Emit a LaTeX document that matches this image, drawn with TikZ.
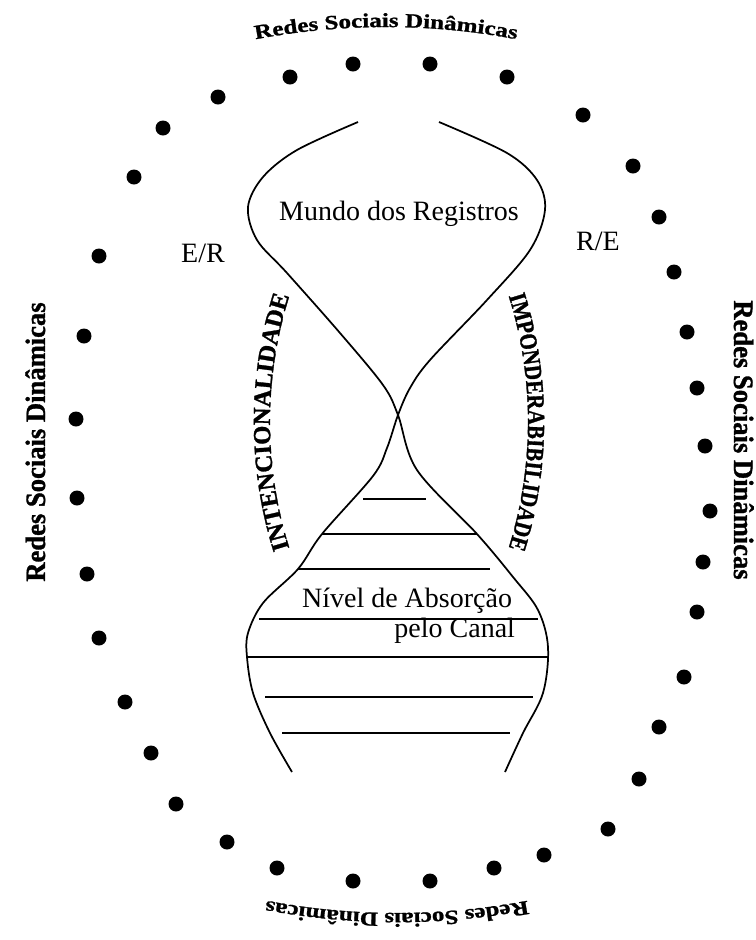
\documentclass[tikz,border=0pt]{standalone}
\usepackage{fontspec}
\setmainfont{Liberation Serif}
\newfontfamily\wawide[FakeStretch=1.25,FakeBold=1.2]{Liberation Serif Bold}
\newfontfamily\watall[FakeStretch=0.95,FakeBold=1.2]{Liberation Serif Bold}
\newfontfamily\waarc[FakeBold=1.2]{Liberation Serif Bold}
\newfontfamily\wanarrow[FakeStretch=0.845,FakeBold=1.2]{Liberation Serif Bold}
\usetikzlibrary{decorations.text}
\newcommand\fTop{\wawide\fontsize{15}{16}\selectfont}
\newcommand\fArcA{\waarc\fontsize{18.5}{20}\selectfont}
\newcommand\fArcB{\wanarrow\fontsize{18.5}{20}\selectfont}
\tikzset{
  label/.style={font=\fontsize{21}{24}\selectfont, inner sep=0pt, outer sep=0pt},
  sidewa/.style={font=\watall\fontsize{21}{24}\selectfont, inner sep=0pt, outer sep=0pt},
  curve/.style={line width=1.3pt},
  hline/.style={line width=1.3pt},
  dotmark/.style={fill=black}
}
\begin{document}
\begin{tikzpicture}[x=0.75pt,y=0.75pt]
\fill[white] (0,0) rectangle (756,-940);
\useasboundingbox (0,0) rectangle (756,-940);

% dots
\foreach \x/\y in {353/64,430/64,507/77,583/115,633/166,659/217,674/272,687/332,697/388,705/446,710/511,703/562,697/612,684/677,659/727,639/779,608/829,544/855,494/868,430/881,353/881,277/868,227/842,176/804,151/753,125/702,99/638,87/574,77/498,76/419,84/336,99/256,134/177,163/128,218/97,290/77}
  \fill[dotmark] (\x,-\y) circle (7.5);

% outer curved texts
\path[decorate, decoration={text along path, text align=center,
  text format delimiters={|}{|}, text={|\fTop|Redes Sociais Dinâmicas}}]
  (386,-727) ++(110:700) arc[start angle=110, end angle=70, radius=700];
\path[decorate, decoration={text along path, text align=center,
  text format delimiters={|}{|}, text={|\fTop|Redes Sociais Dinâmicas}}]
  (397,-213) ++(-70:700) arc[start angle=-70, end angle=-110, radius=700];
\node[sidewa, rotate=90, anchor=base] (redesL) at (45,-442) {Redes Sociais Dinâmicas};
\node[sidewa, rotate=-90, anchor=base] (redesR) at (734,-440) {Redes Sociais Dinâmicas};

% hourglass curves
\draw[curve] plot[smooth, tension=0.55] coordinates {(358,-122) (297,-150) (263,-177) (248,-207) (257,-240) (287,-273) (340,-333) (383,-385) (398,-415) (417,-470) (477,-534) (513,-577) (538,-610) (548,-647) (543,-693) (523,-733) (505,-772)};
\draw[curve] plot[smooth, tension=0.55] coordinates {(439,-122) (507,-153) (537,-180) (545,-210) (530,-250) (487,-300) (430,-360) (410,-388) (398,-415) (387,-448) (373,-476) (322,-534) (298,-569) (263,-603) (248,-633) (247,-657) (253,-693) (270,-733) (292,-772)};

% horizontal levels
\foreach \y/\a/\b in {499/363/426,534/322/477,569/298/490,619/259/538,657/247/548,697/265/533,733/282/510}
  \draw[hline] (\a,-\y) -- (\b,-\y);

% arched inner texts
\path[decorate, decoration={text along path, text align=center,
  text format delimiters={|}{|}, text={|\fArcA|INTENCIONALIDADE}}]
  (690,-422) ++(205:420) arc[start angle=205, end angle=155, radius=420];
\path[decorate, decoration={text along path, text align=center,
  text format delimiters={|}{|}, text={|\fArcB|IMPONDERABIBILIDADE}}]
  (108,-422) ++(25:420) arc[start angle=25, end angle=-25, radius=420];

% labels
\node[label, anchor=base] (mundo) at (399,-220) {Mundo dos Registros};
\node[label, anchor=base] (er) at (203,-262) {E/R};
\node[label, anchor=base] (re) at (598,-250) {R/E};
\node[label, anchor=base east] (nivel) at (512,-607) {Nível de Absorção};
\node[label, anchor=base east] (canal) at (515,-637) {pelo Canal};
\end{tikzpicture}
\end{document}
